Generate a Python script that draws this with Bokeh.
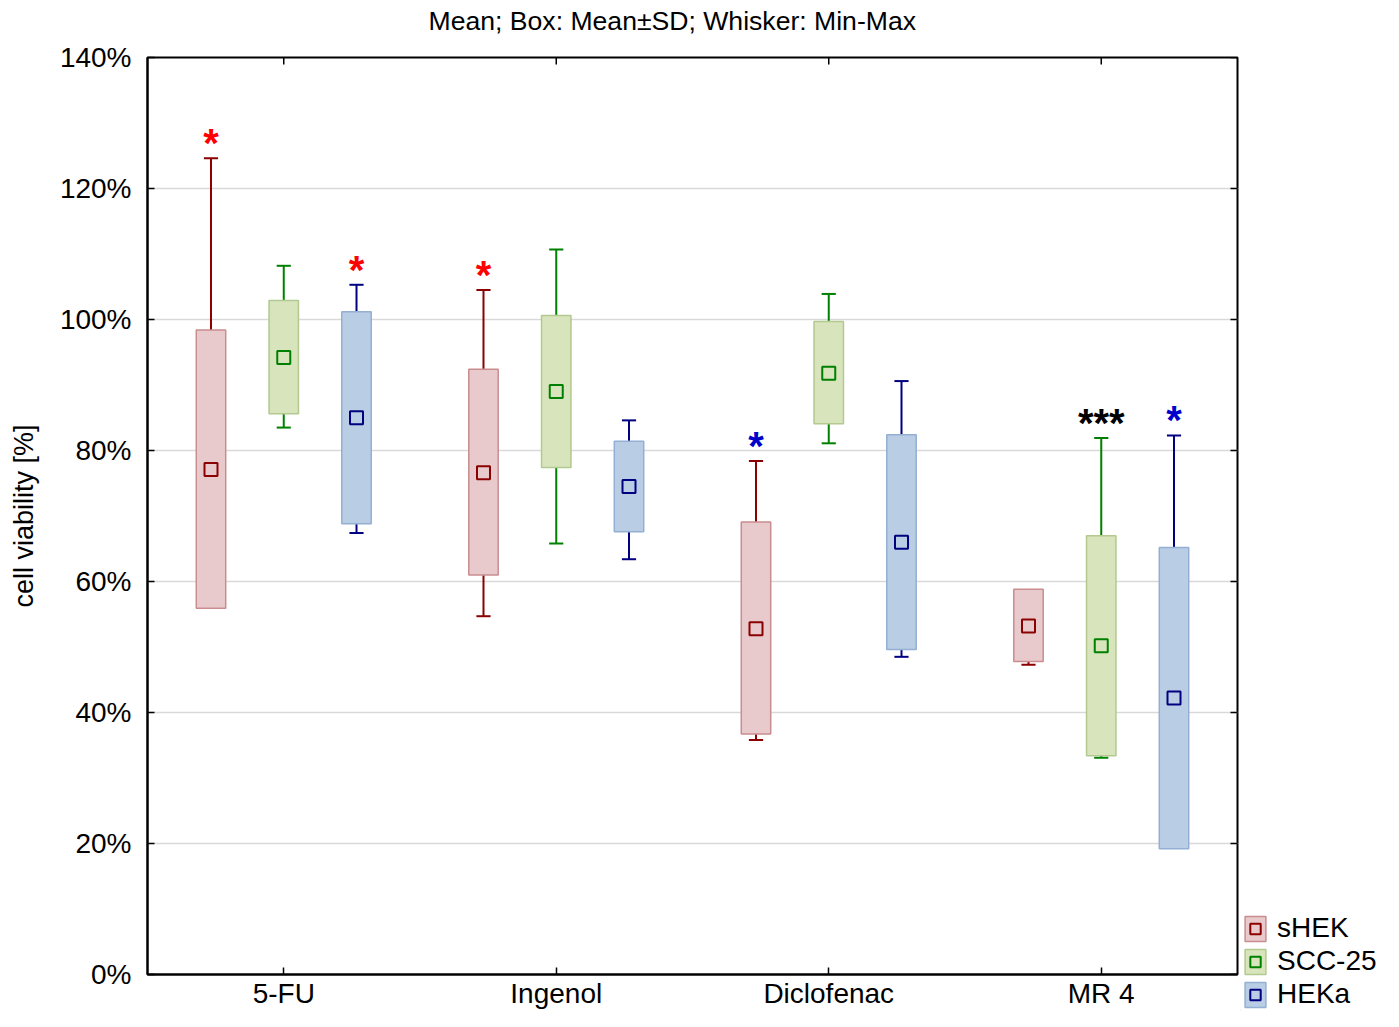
import math
from bokeh.plotting import figure
from bokeh.layouts import row, column
from bokeh.models import (ColumnDataSource, FixedTicker, Range1d,
                          Legend, LegendItem)
from bokeh.core.properties import value
from bokeh.embed import file_html
from bokeh.resources import INLINE

# ---------------- data ----------------
title_text = "Mean; Box: Mean\u00b1SD; Whisker: Min-Max"
categories = ["5-FU", "Ingenol", "Diclofenac", "MR 4"]
series = ["sHEK", "SCC-25", "HEKa"]

shek_mean = [77.1, 76.6, 52.8, 53.2]
shek_sd_lo = [55.9, 61.0, 36.7, 47.8]
shek_sd_hi = [98.4, 92.4, 69.1, 58.8]
shek_min = [56.5, 54.7, 35.8, 47.3]
shek_max = [124.6, 104.5, 78.4, 58.0]

scc_mean = [94.2, 89.0, 91.8, 50.2]
scc_sd_lo = [85.6, 77.4, 84.1, 33.4]
scc_sd_hi = [102.9, 100.6, 99.7, 67.0]
scc_min = [83.5, 65.8, 81.1, 33.1]
scc_max = [108.2, 110.7, 103.9, 81.9]

heka_mean = [85.0, 74.5, 66.0, 42.2]
heka_sd_lo = [68.8, 67.6, 49.6, 19.2]
heka_sd_hi = [101.2, 81.4, 82.4, 65.2]
heka_min = [67.4, 63.4, 48.5, 19.8]
heka_max = [105.3, 84.6, 90.6, 82.3]

# significance marks
sig_cat = [0, 0, 1, 2, 3, 3]
sig_ser = [0, 2, 0, 0, 1, 2]
sig_text = ["*", "*", "*", "*", "***", "*"]
sig_color = ["#ff0000", "#ff0000", "#ff0000", "#0000cc", "#000000", "#0000cc"]

y_ticks = [0, 20, 40, 60, 80, 100, 120, 140]

# ---------------- styles ----------------
fills = ["#e9cacc", "#d8e4bc", "#b9cde4"]
edges = ["#c98d90", "#b3c98f", "#93afd3"]
darks = ["#8b0000", "#008000", "#000080"]
offsets = [-0.267, 0.0, 0.267]
box_w = 0.108
cap_w = 0.052
FONT = "Liberation Sans"

data = [
    (shek_mean, shek_sd_lo, shek_sd_hi, shek_min, shek_max),
    (scc_mean, scc_sd_lo, scc_sd_hi, scc_min, scc_max),
    (heka_mean, heka_sd_lo, heka_sd_hi, heka_min, heka_max),
]

TITLE_H = 41
PLOT_TOP = 16

# ---------------- title strip ----------------
tf = figure(width=1240, height=TITLE_H, output_backend="svg",
            toolbar_location=None,
            x_range=Range1d(0, 1), y_range=Range1d(0, 1),
            min_border_left=147, min_border_right=3, min_border_top=0,
            min_border_bottom=0, x_axis_location=None, y_axis_location=None,
            outline_line_color=None, background_fill_color="white",
            border_fill_color="white")
tf.grid.grid_line_color = None
tf.text(x=[0], y=[0.5], text=[title_text], text_align="left",
        text_baseline="middle", x_offset=281, y_offset=0,
        text_font=value(FONT), text_font_size="26.6px", text_color="#000000")

# ---------------- main plot ----------------
p = figure(width=1240, height=1011 - TITLE_H, output_backend="svg",
           toolbar_location=None,
           x_range=Range1d(-0.5, 3.5), y_range=Range1d(0, 140),
           min_border_left=147, min_border_right=3, min_border_top=PLOT_TOP,
           min_border_bottom=32, background_fill_color="white",
           border_fill_color="white", outline_line_color="black",
           outline_line_width=2)

for s in range(3):
    mean, lo, hi, mn, mx = data[s]
    xs = [i + offsets[s] for i in range(len(categories))]
    src = ColumnDataSource(dict(x=xs, mean=mean, lo=lo, hi=hi, mn=mn, mx=mx,
                                cl=[x - cap_w / 2 for x in xs],
                                cr=[x + cap_w / 2 for x in xs]))
    p.segment(x0="x", y0="mn", x1="x", y1="mx", source=src,
              line_color=darks[s], line_width=2)
    p.segment(x0="cl", y0="mx", x1="cr", y1="mx", source=src,
              line_color=darks[s], line_width=2)
    p.segment(x0="cl", y0="mn", x1="cr", y1="mn", source=src,
              line_color=darks[s], line_width=2)
    p.vbar(x="x", bottom="lo", top="hi", width=box_w, source=src,
           fill_color=fills[s], line_color=edges[s], line_width=1.5)
    p.scatter(x="x", y="mean", source=src, marker="square", size=13,
              fill_color=fills[s], line_color=darks[s], line_width=2)

# significance marks
sx, sy = [], []
for c, s in zip(sig_cat, sig_ser):
    sx.append(c + offsets[s])
    sy.append(data[s][4][c])
p.text(x=sx, y=sy, text=sig_text, text_color=sig_color, text_align="center",
       text_baseline="middle", y_offset=-15, text_font=value(FONT),
       text_font_size="40px", text_font_style="bold")

# top / right inward ticks
p.ray(x=list(range(len(categories))), y=[140] * len(categories), length=7,
      length_units="screen", angle=-math.pi / 2, line_color="black",
      line_width=1.5)
p.ray(x=[3.5] * len(y_ticks), y=y_ticks, length=7, length_units="screen",
      angle=math.pi, line_color="black", line_width=1.5)

# axes
p.xaxis.ticker = FixedTicker(ticks=list(range(len(categories))))
p.xaxis.major_label_overrides = {i: c for i, c in enumerate(categories)}
p.yaxis.ticker = FixedTicker(ticks=y_ticks)
p.yaxis.major_label_overrides = {t: f"{t}%" for t in y_ticks}
p.yaxis.axis_label = "cell viability [%]"
for ax in [p.xaxis[0], p.yaxis[0]]:
    ax.axis_line_color = "black"
    ax.axis_line_width = 2
    ax.major_tick_in = 7
    ax.major_tick_out = 0
    ax.major_tick_line_color = "black"
    ax.major_tick_line_width = 1.5
    ax.minor_tick_line_color = None
    ax.major_label_text_font = FONT
    ax.major_label_text_color = "black"
p.xaxis.major_label_text_font_size = "28px"
p.xaxis.major_label_standoff = 3
p.yaxis.major_label_text_font_size = "28px"
p.yaxis.major_label_standoff = 16
p.yaxis.axis_label_text_font = FONT
p.yaxis.axis_label_text_font_size = "27px"
p.yaxis.axis_label_text_font_style = "normal"
p.yaxis.axis_label_text_color = "black"
p.yaxis.axis_label_standoff = 18

p.xgrid.grid_line_color = None
p.ygrid.ticker = FixedTicker(ticks=y_ticks[1:-1])
p.ygrid.grid_line_color = "#d9d9d9"
p.ygrid.grid_line_width = 1.5

# ---------------- legend panel ----------------
lg = figure(width=143, height=1011, output_backend="svg", toolbar_location=None,
            x_range=Range1d(0, 1), y_range=Range1d(0, 1), min_border=0,
            x_axis_location=None, y_axis_location=None,
            outline_line_color=None, background_fill_color="white",
            border_fill_color="white")
lg.grid.grid_line_color = None
items = []
for s in range(3):
    # a single off-range point so the legend has a glyph to draw
    hidden = ColumnDataSource(dict(x=[-5.0], y=[-5.0], b=[-5.0], t=[-4.0]))
    b = lg.vbar(x="x", bottom="b", top="t", width=0.1, source=hidden,
                fill_color=fills[s], line_color=edges[s], line_width=1.5)
    m = lg.scatter(x="x", y="y", source=hidden, marker="square", size=11,
                   fill_color=fills[s], line_color=darks[s], line_width=2)
    items.append(LegendItem(label=series[s], renderers=[b, m]))
legend = Legend(items=items, location=(2, 1),
                label_text_font=FONT, label_text_font_size="28px",
                label_text_color="black", glyph_width=26, glyph_height=31,
                label_height=31, spacing=1, label_standoff=9, padding=0,
                margin=0, border_line_color=None, background_fill_alpha=0)
lg.add_layout(legend)

layout = row(column(tf, p, spacing=0), column(lg), spacing=0)
open("out.html", "w").write(file_html(layout, INLINE))
